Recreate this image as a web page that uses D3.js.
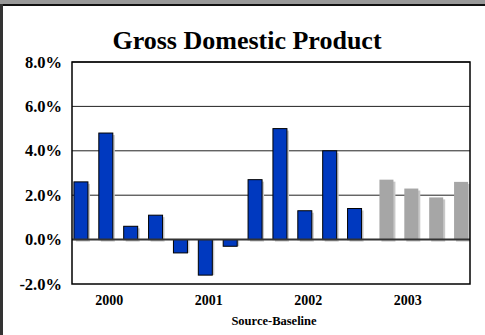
<!DOCTYPE html>
<html>
<head>
<meta charset="utf-8">
<script src="https://cdn.jsdelivr.net/npm/d3@7"></script>
<style>
body { margin:0; background:#fff; overflow:hidden; }
svg { display:block; }
text { font-family: 'Times New Roman', 'Liberation Serif', serif; font-weight:bold; fill:#000; }
</style>
</head>
<body>
<div id="graph"></div>
<script>
var quarters = ['2000Q1','2000Q2','2000Q3','2000Q4','2001Q1','2001Q2','2001Q3','2001Q4','2002Q1','2002Q2','2002Q3','2002Q4','2003Q1','2003Q2','2003Q3','2003Q4']
var catLabels = ['','2000','','','','2001','','','','2002','','','','2003','','']
var actual = [2.6, 4.8, 0.6, 1.1, -0.6, -1.6, -0.3, 2.7, 5.0, 1.3, 4.0, 1.4, null, null, null, null]
var baseline = [null, null, null, null, null, null, null, null, null, null, null, null, 2.7, 2.3, 1.9, 2.6]
var yTicks = [-2, 0, 2, 4, 6, 8]

var width = 485
var height = 335
var marginLeft = 72
var marginRight = 15
var marginTop = 62
var marginBottom = 51

var svg = d3.select('#graph').append('svg')
	.attr('width', width)
	.attr('height', height)

// frame
svg.append('rect').attr('x',0).attr('y',0).attr('width',width).attr('height',5).attr('fill','#999')
svg.append('rect').attr('x',0).attr('y',4).attr('width',width).attr('height',2).attr('fill','#111')
svg.append('rect').attr('x',0).attr('y',4).attr('width',3).attr('height',height).attr('fill','#333')

var xScale = d3.scaleBand()
	.domain(quarters)
	.range([marginLeft, width - marginRight])

var yScale = d3.scaleLinear()
	.domain([-2, 8])
	.range([height - marginBottom, marginTop])

var barW = 14
var shift = 3.5

svg.append('text')
	.attr('x', 247)
	.attr('y', 49)
	.attr('text-anchor','middle')
	.style('font-size','26px')
	.text('Gross Domestic Product')

// grid
svg.selectAll('line.grid')
	.data(yTicks.filter(function(d){ return d !== 0 && d !== -2 }))
	.enter().append('line')
	.attr('class','grid')
	.attr('x1', marginLeft).attr('x2', width - marginRight)
	.attr('y1', function(d){ return yScale(d) }).attr('y2', function(d){ return yScale(d) })
	.attr('stroke','#222').attr('stroke-width',1)

svg.selectAll('text.ytick')
	.data(yTicks)
	.enter().append('text')
	.attr('class','ytick')
	.attr('x', 62)
	.attr('y', function(d){ return yScale(d) + 5.5 })
	.attr('text-anchor','end')
	.style('font-size','16.5px')
	.text(function(d){ return d.toFixed(1) + '%' })

function drawBars(values, color, offset, outline){
	var data = values.map(function(v, i){ return { q: quarters[i], v: v } }).filter(function(d){ return d.v !== null })
	svg.selectAll(null)
		.data(data)
		.enter().append('rect')
		.attr('x', function(d){ return xScale(d.q) + xScale.bandwidth()/2 + offset - barW/2 + 2 })
		.attr('y', function(d){ return yScale(Math.max(0, d.v)) + (d.v > 0 ? 2 : 0) })
		.attr('width', barW)
		.attr('height', function(d){ return Math.abs(yScale(d.v) - yScale(0)) })
		.attr('fill', '#c8c8c8')
	svg.selectAll(null)
		.data(data)
		.enter().append('rect')
		.attr('x', function(d){ return xScale(d.q) + xScale.bandwidth()/2 + offset - barW/2 })
		.attr('y', function(d){ return yScale(Math.max(0, d.v)) })
		.attr('width', barW)
		.attr('height', function(d){ return Math.abs(yScale(d.v) - yScale(0)) })
		.attr('fill', color)
		.attr('stroke', outline)
		.attr('stroke-width', outline === 'none' ? 0 : 1)
}

drawBars(actual, '#0039BF', -shift, '#000')
drawBars(baseline, '#A6A6A6', shift, 'none')

// zero line
svg.append('line')
	.attr('x1', marginLeft).attr('x2', width - marginRight)
	.attr('y1', yScale(0)).attr('y2', yScale(0))
	.attr('stroke','#333').attr('stroke-width',2)

// plot border
svg.append('rect')
	.attr('x', marginLeft).attr('y', yScale(8))
	.attr('width', width - marginRight - marginLeft)
	.attr('height', yScale(-2) - yScale(8))
	.attr('fill','none').attr('stroke','#000').attr('stroke-width',1.5)

svg.selectAll('text.xlab')
	.data(quarters)
	.enter().append('text')
	.attr('class','xlab')
	.attr('x', function(d){ return xScale(d) + xScale.bandwidth()/2 })
	.attr('y', 305)
	.attr('text-anchor','middle')
	.style('font-size','14px')
	.text(function(d, i){ return catLabels[i] })

svg.append('text')
	.attr('x', 274)
	.attr('y', 325)
	.attr('text-anchor','middle')
	.style('font-size','12.5px')
	.text('Source-Baseline')
</script>
</body>
</html>
